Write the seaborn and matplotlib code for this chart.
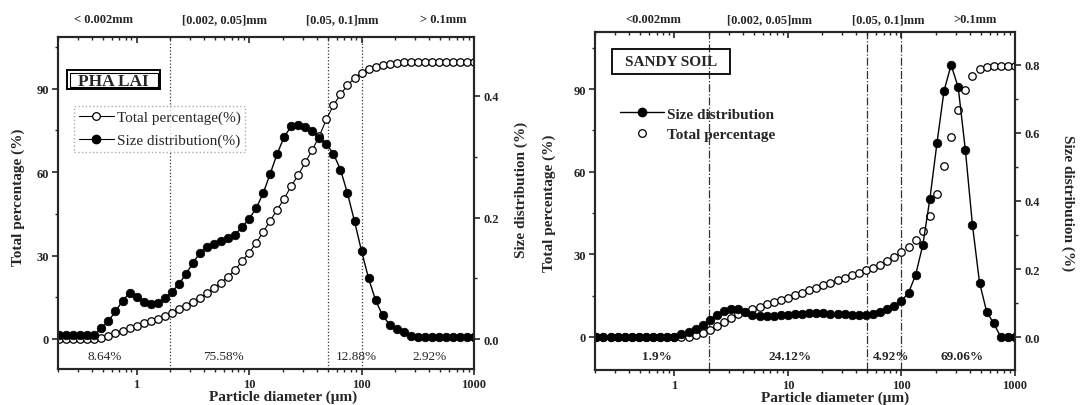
import numpy as np
import pandas as pd
import matplotlib
matplotlib.use("Agg")
import matplotlib.pyplot as plt
import seaborn as sns
from matplotlib.lines import Line2D
from matplotlib.patches import Rectangle
from matplotlib.ticker import MultipleLocator, FixedLocator, FixedFormatter, LogLocator, NullFormatter, FormatStrFormatter

# ---------------- data ----------------
diameter_um = [0.205, 0.237, 0.274, 0.316, 0.365, 0.422, 0.487, 0.562, 0.649, 0.750,
               0.866, 1.0, 1.155, 1.334, 1.540, 1.778, 2.054, 2.371, 2.738, 3.162,
               3.652, 4.217, 4.870, 5.623, 6.494, 7.499, 8.660, 10.0, 11.55, 13.34,
               15.40, 17.78, 20.54, 23.71, 27.38, 31.62, 36.52, 42.17, 48.70, 56.23,
               64.94, 74.99, 86.60, 100.0, 115.5, 133.4, 154.0, 177.8, 205.4, 237.1,
               273.8, 316.2, 365.2, 421.7, 487.0, 562.3, 649.4, 749.9, 866.0, 1000.0]

phalai_size = [0.007, 0.007, 0.007, 0.007, 0.007, 0.007, 0.018, 0.030, 0.046, 0.063,
               0.076, 0.070, 0.061, 0.058, 0.060, 0.067, 0.078, 0.090, 0.107, 0.125,
               0.142, 0.152, 0.157, 0.161, 0.166, 0.172, 0.184, 0.198, 0.215, 0.240,
               0.272, 0.305, 0.333, 0.350, 0.353, 0.349, 0.342, 0.331, 0.321, 0.305,
               0.279, 0.240, 0.194, 0.145, 0.100, 0.064, 0.039, 0.024, 0.017, 0.012,
               0.006, 0.003, 0.003, 0.003, 0.003, 0.003, 0.003, 0.003, 0.003, 0.003]

phalai_total = [0.0, 0.0, 0.0, 0.0, 0.0, 0.0, 0.3, 1.0, 2.0, 3.0,
                3.9, 4.8, 5.8, 6.5, 7.3, 8.3, 9.3, 10.6, 12.0, 13.2,
                14.8, 16.4, 18.3, 20.2, 22.4, 24.8, 28.0, 31.0, 34.5, 38.5,
                42.5, 46.5, 50.5, 55.0, 59.0, 63.5, 68.0, 73.0, 79.0, 84.0,
                88.0, 91.2, 93.8, 95.8, 97.0, 97.9, 98.5, 98.9, 99.2, 99.5,
                99.5, 99.5, 99.5, 99.5, 99.5, 99.5, 99.5, 99.5, 99.5, 99.5]

sandy_size = [0.0, 0.0, 0.0, 0.0, 0.0, 0.0, 0.0, 0.0, 0.0, 0.0,
              0.0, 0.0, 0.010, 0.016, 0.024, 0.036, 0.050, 0.065, 0.077, 0.083,
              0.081, 0.073, 0.066, 0.062, 0.061, 0.062, 0.064, 0.066, 0.068, 0.069,
              0.070, 0.070, 0.070, 0.069, 0.068, 0.067, 0.066, 0.065, 0.065, 0.067,
              0.073, 0.081, 0.092, 0.106, 0.130, 0.183, 0.270, 0.405, 0.570, 0.724,
              0.800, 0.734, 0.551, 0.330, 0.160, 0.075, 0.040, 0.0, 0.0, 0.0]

sandy_total = [0.0, 0.0, 0.0, 0.0, 0.0, 0.0, 0.0, 0.0, 0.0, 0.0,
               0.0, 0.0, 0.0, 0.0, 0.6, 1.5, 2.7, 4.0, 5.5, 7.0,
               8.2, 9.2, 10.1, 10.9, 11.8, 12.6, 13.4, 14.3, 15.2, 16.1,
               17.0, 17.9, 18.8, 19.7, 20.6, 21.5, 22.4, 23.3, 24.2, 25.1,
               26.1, 27.4, 29.0, 30.8, 32.5, 35.2, 38.5, 44.0, 52.0, 62.0,
               72.5, 82.5, 89.7, 94.8, 97.2, 98.0, 98.3, 98.4, 98.4, 98.4]

class_bounds_um = [2, 50, 100]
class_labels_left = ["< 0.002mm", "[0.002, 0.05]mm", "[0.05, 0.1]mm", "> 0.1mm"]
class_labels_right = ["<0.002mm", "[0.002, 0.05]mm", "[0.05, 0.1]mm", ">0.1mm"]
phalai_fractions = ["8.64%", "75.58%", "12.88%", "2.92%"]
sandy_fractions = ["1.9%", "24.12%", "4.92%", "69.06%"]
x_ticks = [1, 10, 100, 1000]
x_tick_labels = ["1", "10", "100", "1000"]

# ---------------- style ----------------
sns.set_style("ticks")
plt.rcParams['font.family'] = ['Liberation Serif', 'DejaVu Serif']
plt.rcParams['font.weight'] = 'bold'
plt.rcParams['axes.linewidth'] = 1.5

W, H = 1080, 406
fig = plt.figure(figsize=(W / 100, H / 100), dpi=100)


def fx(x):
    return x / W


def fy(y):
    return 1 - y / H


def ftext(x, y, s, **kw):
    fig.text(fx(x), fy(y), s, ha=kw.pop('ha', 'center'), va=kw.pop('va', 'center'), **kw)


def setup_panel(rect, df, ylim_l, ylim_r, r_major, r_minor, total_line, vline_style):
    ax = fig.add_axes(rect)
    ax2 = ax.twinx()
    ax.set_xscale('log')
    for b in class_bounds_um:
        ax.axvline(b, color='#333333', lw=0.9, ls=vline_style, zorder=0)
    sns.lineplot(data=df, x='d', y='total', ax=ax, estimator=None, sort=False,
                 color='black', lw=(0.8 if total_line else 0), ls=('-' if total_line else 'none'),
                 marker='o', markersize=5.4, markerfacecolor='white',
                 markeredgecolor='black', markeredgewidth=0.9)
    sns.lineplot(data=df, x='d', y='size', ax=ax2, estimator=None, sort=False,
                 color='black', lw=1.0, marker='o', markersize=6.2,
                 markerfacecolor='black', markeredgecolor='black', markeredgewidth=0.5)
    ax.set_xlim(0.2, 1000)
    ax.set_ylim(*ylim_l)
    ax2.set_ylim(*ylim_r)
    for a in (ax, ax2):
        a.set_xlabel('')
        a.set_ylabel('')
    ax.xaxis.set_major_locator(FixedLocator(x_ticks))
    ax.xaxis.set_major_formatter(FixedFormatter(x_tick_labels))
    ax.xaxis.set_minor_locator(LogLocator(base=10, subs=np.arange(2, 10)))
    ax.xaxis.set_minor_formatter(NullFormatter())
    ax.yaxis.set_major_locator(MultipleLocator(30))
    ax.yaxis.set_minor_locator(MultipleLocator(15))
    ax.yaxis.set_major_formatter(FormatStrFormatter('%d'))
    ax2.yaxis.set_major_locator(MultipleLocator(r_major))
    ax2.yaxis.set_minor_locator(MultipleLocator(r_minor))
    ax2.yaxis.set_major_formatter(FormatStrFormatter('%.1f'))
    ax.tick_params(axis='x', which='both', direction='out', bottom=True, top=False,
                   labelsize=9, pad=2)
    ax.tick_params(axis='y', which='both', direction='out', left=True, right=False,
                   labelsize=9, pad=2)
    ax2.tick_params(axis='y', which='both', direction='out', right=True, labelsize=9, pad=2)
    ax2.xaxis.set_visible(True)
    ax2.xaxis.tick_top()
    ax2.tick_params(axis='x', which='both', direction='in', top=True, bottom=False,
                    labeltop=False, labelbottom=False)
    for a in (ax, ax2):
        a.tick_params(which='major', length=4.5, width=1.2)
        a.tick_params(which='minor', length=2.5, width=1.0)
        for sp in a.spines.values():
            sp.set_linewidth(1.5)
            sp.set_visible(True)
    return ax, ax2


df_left = pd.DataFrame({'d': diameter_um, 'total': phalai_total, 'size': phalai_size})
df_right = pd.DataFrame({'d': diameter_um, 'total': sandy_total, 'size': sandy_size})

axL, axL2 = setup_panel([fx(58), 1 - 370 / H, fx(416), 332 / H], df_left,
                        (-10.8, 108.6), (-0.049, 0.497), 0.2, 0.1, True, ':')
axR, axR2 = setup_panel([fx(595), 1 - 371 / H, fx(420), 338 / H], df_right,
                        (-12.0, 110.7), (-0.097, 0.897), 0.2, 0.1, False, '-.')

# ---------------- texts: left panel ----------------
for xpos, s in zip([103, 224, 342, 443], class_labels_left):
    ftext(xpos, 20, s, fontsize=9, fontweight='bold')
for xpos, s in zip([105, 224, 356, 430], phalai_fractions):
    ftext(xpos, 357, s, fontsize=9.5, fontweight='normal')
ftext(283, 397, "Particle diameter (\u03bcm)", fontsize=11, fontweight='bold')
ftext(18, 197, "Total percentage (%)", fontsize=11, fontweight='bold', rotation=90)
ftext(521, 190, "Size distribution (%)", fontsize=11, fontweight='bold', rotation=90)

# PHA LAI double box
fig.add_artist(Rectangle((fx(67), fy(90)), fx(93), 19 / H, transform=fig.transFigure,
                         fill=False, lw=1.4, ec='black'))
fig.add_artist(Rectangle((fx(69.5), fy(87.5)), fx(88), 14 / H, transform=fig.transFigure,
                         fill=False, lw=0.8, ec='black'))
ftext(113.5, 86, "PHA LAI", fontsize=12.5, fontweight='bold', va='baseline')

h_tot = Line2D([], [], color='black', lw=0.8, marker='o', ms=5.5,
               mfc='white', mec='black', mew=0.9)
h_size = Line2D([], [], color='black', lw=0.8, marker='o', ms=6.0,
                mfc='black', mec='black')
legL = axL.legend([h_tot, h_size], ["Total percentage(%)", "Size distribution(%)"],
                  loc='upper left', bbox_to_anchor=(fx(74), fy(107)),
                  bbox_transform=fig.transFigure, fancybox=False, frameon=True,
                  prop={'size': 11, 'weight': 'normal'}, handlelength=2.3,
                  handletextpad=0.2, borderpad=0.3, labelspacing=0.6, borderaxespad=0)
legL.get_frame().set_edgecolor('#999999')
legL.get_frame().set_linestyle(':')
legL.get_frame().set_linewidth(1.0)

# ---------------- texts: right panel ----------------
for xpos, s in zip([653, 770, 888, 975], class_labels_right):
    ftext(xpos, 20, s, fontsize=9, fontweight='bold')
for xpos, s in zip([657, 790, 891, 962], sandy_fractions):
    ftext(xpos, 357, s, fontsize=9.5, fontweight='bold')
ftext(835, 398, "Particle diameter (\u03bcm)", fontsize=11, fontweight='bold')
ftext(549, 203, "Total percentage (%)", fontsize=11, fontweight='bold', rotation=90)
ftext(1068, 203, "Size distribution (%)", fontsize=11, fontweight='bold', rotation=270)

fig.add_artist(Rectangle((fx(612), fy(75)), fx(118), 25 / H, transform=fig.transFigure,
                         fill=False, lw=1.3, ec='black'))
ftext(671, 62.5, "SANDY SOIL", fontsize=11, fontweight='bold')

h_size_r = Line2D([], [], color='black', lw=1.0, marker='o', ms=6.0,
                  mfc='black', mec='black')
h_tot_r = Line2D([], [], color='black', lw=0, ls='none', marker='o', ms=5.5,
                 mfc='white', mec='black', mew=0.9)
legR = axR.legend([h_size_r, h_tot_r], ["Size distribution", "Total percentage"],
                  loc='upper left', bbox_to_anchor=(fx(617), fy(105)),
                  bbox_transform=fig.transFigure, frameon=False,
                  prop={'size': 11, 'weight': 'bold'}, handlelength=2.9,
                  handletextpad=0.2, borderpad=0.2, labelspacing=0.45, borderaxespad=0)

fig.savefig("out.png", dpi=100)
